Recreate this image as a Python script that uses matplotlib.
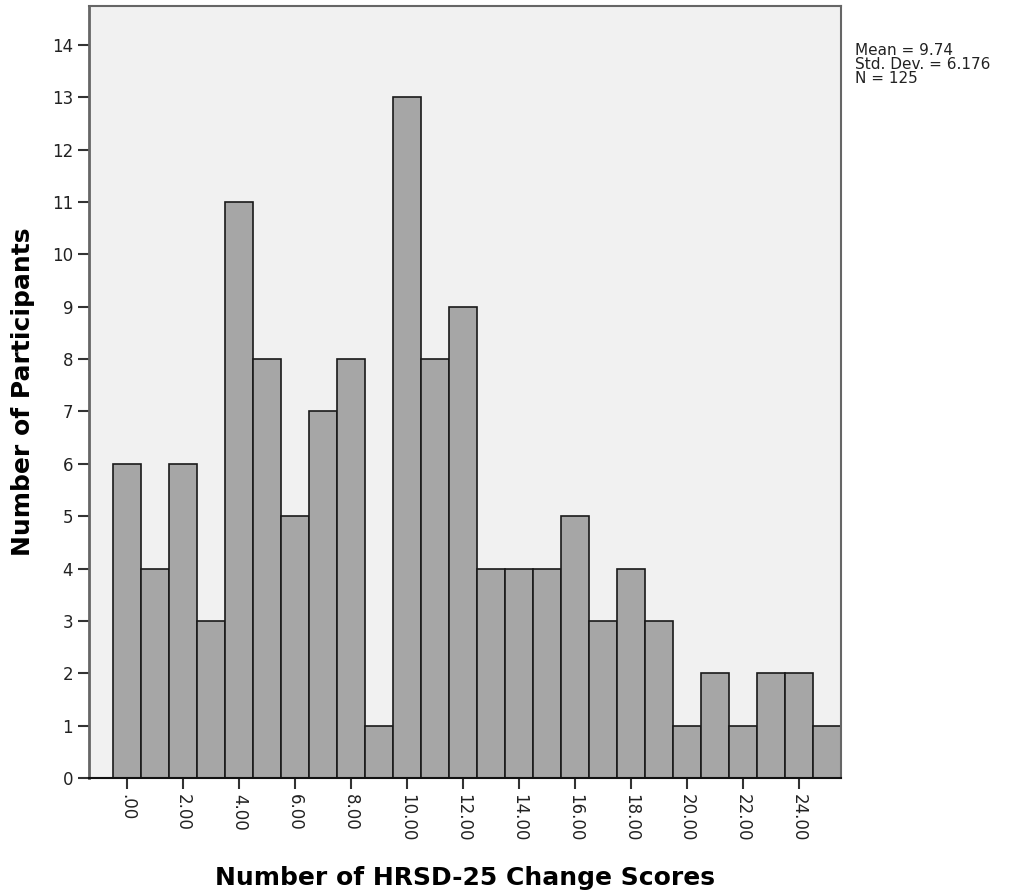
import matplotlib
matplotlib.use("Agg")
import matplotlib.pyplot as plt
import numpy as np

scores = list(range(26))
counts = [6, 4, 6, 3, 11, 8, 5, 7, 8, 1, 13, 8, 9, 4, 4, 4, 5, 3, 4, 3, 1, 2, 1, 2, 2, 1]
xticks = list(range(0, 25, 2))
xticklabels = [".00"] + [f"{v}.00" for v in xticks[1:]]
yticks = list(range(0, 15))
stats_text = "Mean = 9.74\nStd. Dev. = 6.176\nN = 125"

fig = plt.figure(figsize=(10.24, 8.94), dpi=100)
ax = fig.add_axes([89/1024, 116/894, (841-89)/1024, (778-6)/894])
ax.set_facecolor("#f1f1f1")
ax.bar(scores, counts, width=1.0, color="#a6a6a6", edgecolor="#1a1a1a", linewidth=1.2, zorder=2)
ax.set_xlim(-1.36, 25.5)
ax.set_ylim(0, 14.74)
ax.set_xticks(xticks)
ax.set_xticklabels(xticklabels, rotation=-90, fontsize=12, color="#222222")
ax.set_yticks(yticks)
ax.set_yticklabels([str(v) for v in yticks], fontsize=12, color="#222222")
ax.tick_params(axis="both", direction="out", length=8, width=1.5, color="#333333")
for s in ["left", "top", "right"]:
    ax.spines[s].set_color("#666666")
    ax.spines[s].set_linewidth(1.5)
ax.spines["left"].set_linewidth(2)
ax.spines["bottom"].set_color("#111111")
ax.spines["bottom"].set_linewidth(1.5)
ax.set_xlabel("Number of HRSD-25 Change Scores", fontsize=18, fontweight="bold", labelpad=18)
ax.set_ylabel("Number of Participants", fontsize=18, fontweight="bold", labelpad=12)
fig.text(855/1024, 1 - 43/894, stats_text, fontsize=11, va="top", ha="left", linespacing=0.9, color="#222222")
fig.savefig("out.png", dpi=100)
